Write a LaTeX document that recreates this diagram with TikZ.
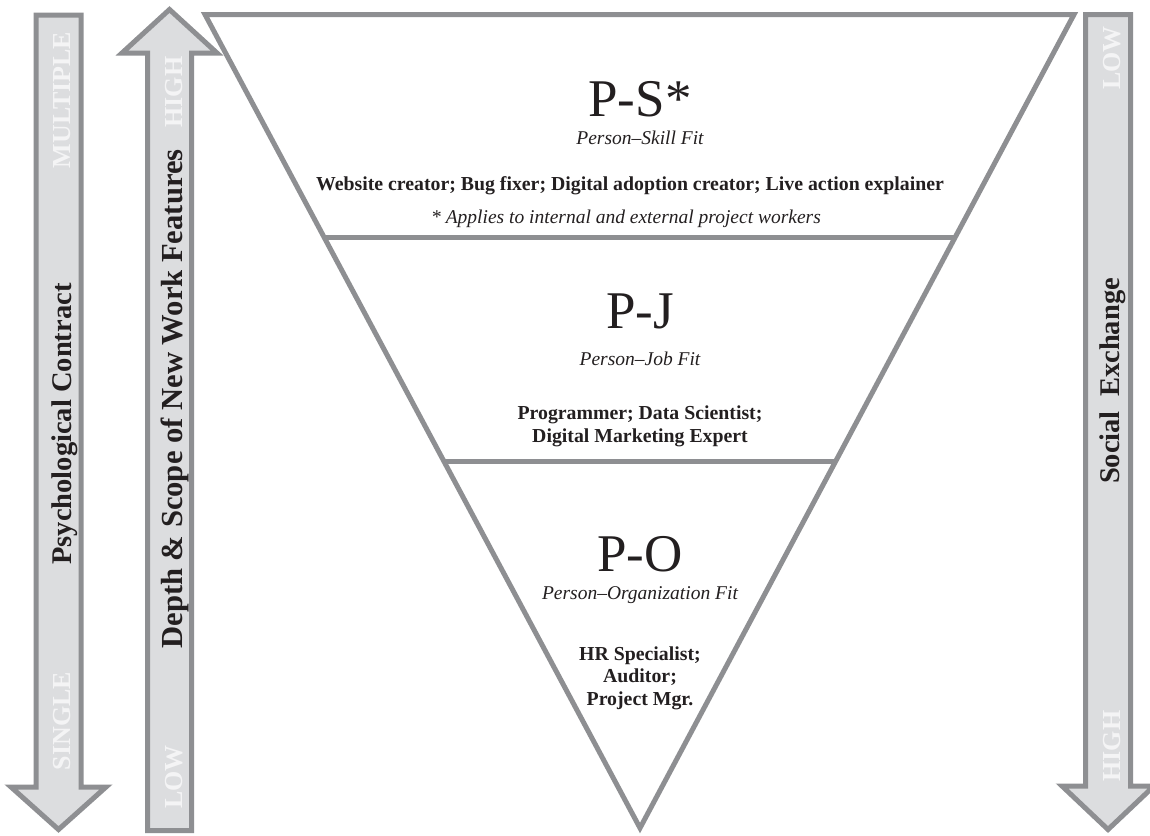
\documentclass[tikz,border=0pt]{standalone}
\usepackage{fontspec}
\setmainfont{Liberation Serif}
\usetikzlibrary{calc}
\definecolor{edgegray}{HTML}{8E8F92}
\definecolor{fillgray}{HTML}{DCDDDF}
\definecolor{txtcol}{HTML}{231F20}
\definecolor{lblcol}{HTML}{F4F4F5}
\tikzset{
  shapeline/.style={draw=edgegray, line width=5pt, line join=miter},
  arrowshape/.style={shapeline, fill=fillgray},
  bigtitle/.style={anchor=base, inner sep=0pt, text=txtcol, font=\fontsize{53}{56}\selectfont},
  subtitle/.style={anchor=base, inner sep=0pt, text=txtcol, font=\fontsize{19.5}{22}\selectfont\itshape},
  roles/.style={anchor=base, inner sep=0pt, text=txtcol, align=center, font=\fontsize{19.8}{22.5}\selectfont\bfseries},
  axislabel/.style={anchor=base, rotate=90, inner sep=0pt, text=txtcol, font=\fontsize{28.5}{30}\selectfont\bfseries},
  endlabel/.style={anchor=base, rotate=90, inner sep=0pt, text=lblcol, font=\fontsize{26}{28}\selectfont\bfseries},
}
\begin{document}
\begin{tikzpicture}[x=1pt,y=-1pt]
\useasboundingbox (0,0) rectangle (1150,835);
\fill[white] (0,0) rectangle (1150,835);

% left arrow (down): Psychological Contract
\draw[arrowshape] (36,15) -- (81,15) -- (81,787) -- (106,787) -- (58.5,829.5) -- (11,787) -- (36,787) -- cycle;
% second arrow (up): Depth & Scope
\draw[arrowshape] (147.5,830.5) -- (191.5,830.5) -- (191.5,53) -- (217,53) -- (169.5,9.5) -- (122,53) -- (147.5,53) -- cycle;
% right arrow (down): Social Exchange
\draw[arrowshape] (1085.5,14.5) -- (1130.5,14.5) -- (1130.5,786) -- (1154,786) -- (1108,829.5) -- (1062,786) -- (1085.5,786) -- cycle;

% inverted triangle
\coordinate (TL) at (205,14.5);
\coordinate (TR) at (1074,14.5);
\coordinate (B) at (640,828);
\draw[shapeline] (TL) -- (TR) -- (B) -- cycle;
\coordinate (L1) at ($(TL)!0.2741!(B)$);
\coordinate (R1) at ($(TR)!0.2741!(B)$);
\coordinate (L2) at ($(TL)!0.5489!(B)$);
\coordinate (R2) at ($(TR)!0.5489!(B)$);
\draw[shapeline] (L1) -- (R1);
\draw[shapeline] (L2) -- (R2);

% P-S
\node[bigtitle] (ps) at (640,116) {P-S*};
\node[subtitle] (pssub) at (640,144) {Person–Skill Fit};
\node[roles] (psroles) at (630,190) {Website creator; Bug fixer; Digital adoption creator; Live action explainer};
\node[subtitle] (psnote) at (626,223) {* Applies to internal and external project workers};

% P-J
\node[bigtitle] (pj) at (640,328) {P-J};
\node[subtitle] (pjsub) at (640,365) {Person–Job Fit};
\node[roles] (pjroles) at (640,442) {Programmer; Data Scientist;\\Digital Marketing Expert};

% P-O
\node[bigtitle] (po) at (640,571) {P-O};
\node[subtitle] (posub) at (640,599) {Person–Organization Fit};
\node[roles] (poroles) at (640,705) {HR Specialist;\\Auditor;\\Project Mgr.};

% axis labels
\node[axislabel] (psych) at (71,424) {Psychological Contract};
\node[axislabel, font=\fontsize{30.6}{32}\selectfont\bfseries] (depth) at (182,399) {Depth \& Scope of New Work Features};
\node[axislabel] (social) at (1119,381) {Social\ \ Exchange};

% end labels
\node[endlabel] (multiple) at (70,100) {MULTIPLE};
\node[endlabel] (single) at (70,721) {SINGLE};
\node[endlabel] (high1) at (182,92) {HIGH};
\node[endlabel] (low1) at (182,777) {LOW};
\node[endlabel] (low2) at (1120,58) {LOW};
\node[endlabel] (high2) at (1120,746) {HIGH};
\end{tikzpicture}
\end{document}
